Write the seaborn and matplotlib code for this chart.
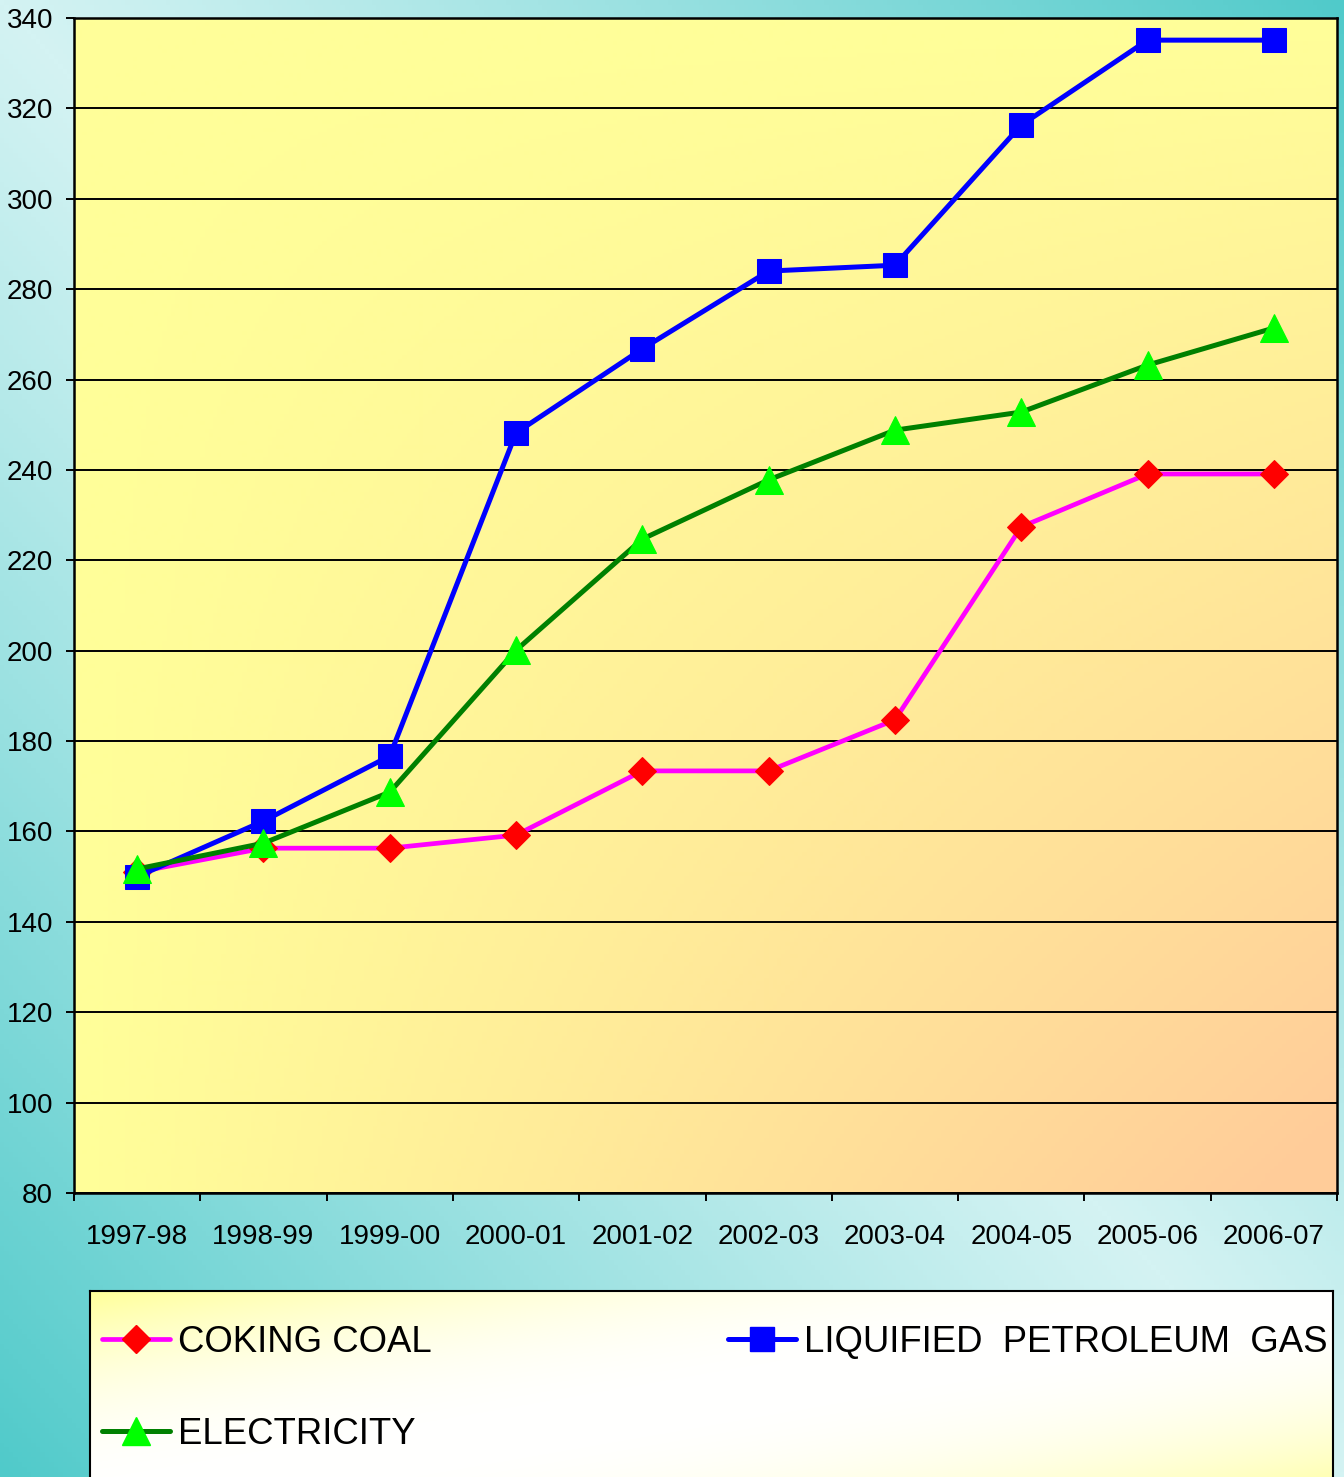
import numpy as np
import seaborn as sns
import matplotlib.pyplot as plt
from matplotlib.lines import Line2D

# data
years = ["1997-98", "1998-99", "1999-00", "2000-01", "2001-02",
         "2002-03", "2003-04", "2004-05", "2005-06", "2006-07"]
coking_coal = [151.0, 156.3, 156.3, 159.2, 173.4, 173.4, 184.7, 227.4, 239.1, 239.1]
lpg = [150.0, 162.3, 176.7, 248.2, 266.8, 284.0, 285.3, 316.3, 335.1, 335.1]
electricity = [151.7, 157.4, 168.7, 200.1, 224.7, 237.8, 248.8, 252.8, 263.2, 271.4]
y_ticks = list(range(80, 341, 20))

sns.set_style("white")
plt.rcParams['font.family'] = ['Liberation Sans', 'DejaVu Sans']
plt.rcParams['text.color'] = 'black'

W, H = 1344, 1477
fig = plt.figure(figsize=(W / 100, H / 100), dpi=100)


def gradient(c0, c1, t):
    c0 = np.array(c0) / 255.0
    c1 = np.array(c1) / 255.0
    return c0 * (1 - t[..., None]) + c1 * t[..., None]


# figure background: light cyan along the diagonal, teal in the other corners
xx, yy = np.meshgrid(np.linspace(0, 1, 300), np.linspace(0, 1, 300))
bg = fig.add_axes([0, 0, 1, 1], zorder=-10)
bg.imshow(gradient((212, 243, 243), (80, 202, 202), np.abs(xx - yy) ** 1.1),
          aspect='auto', extent=(0, 1, 0, 1))
bg.axis('off')

# main plot
ax = fig.add_axes([74 / W, 1 - 1193 / H, (1337 - 74) / W, (1193 - 18) / H])
ax.imshow(gradient((255, 255, 153), (255, 204, 153), np.clip(xx * yy * 1.05, 0, 1)),
          aspect='auto', extent=(0, 1, 0, 1), transform=ax.transAxes, zorder=0)

x = np.arange(len(years))
sns.lineplot(x=x, y=coking_coal, ax=ax, color="#ff00ff", lw=3.4, marker="D",
             markersize=14, markerfacecolor="#ff0000", markeredgecolor="#ff0000",
             legend=False, zorder=3)
sns.lineplot(x=x, y=lpg, ax=ax, color="#0000ff", lw=3.6, marker="s",
             markersize=17, markerfacecolor="#0000ff", markeredgecolor="#0000ff",
             legend=False, zorder=4)
sns.lineplot(x=x, y=electricity, ax=ax, color="#008000", lw=3.6, marker="^",
             markersize=20, markerfacecolor="#00ff00", markeredgecolor="#00ff00",
             legend=False, zorder=5)

ax.set_xlim(-0.5, len(years) - 0.5)
ax.set_ylim(80, 340)
ax.set_yticks(y_ticks)
ax.set_yticklabels([str(v) for v in y_ticks], fontsize=20)
ax.set_xticks(np.arange(-0.5, len(years), 1))
ax.set_xticklabels([])
ax.set_xticks(x, minor=True)
ax.set_xticklabels(years, minor=True, fontsize=20)
ax.tick_params(which='major', bottom=True, left=True, length=6, width=1.4,
               color='black', direction='out', labelcolor='black')
ax.tick_params(axis='y', pad=9)
ax.tick_params(axis='x', which='minor', bottom=True, length=0, pad=22,
               labelcolor='black')
ax.yaxis.grid(True, color='black', lw=1.4)
ax.xaxis.grid(False)
ax.set_axisbelow(True)
for s in ax.spines.values():
    s.set_visible(True)
    s.set_color('black')
    s.set_linewidth(1.8)
ax.set_xlabel("")
ax.set_ylabel("")

# legend box
lax = fig.add_axes([90 / W, -0.02, (1333 - 90) / W, (1477 - 1291) / H + 0.02], zorder=1)
lx, ly = np.meshgrid(np.linspace(0, 1, 300), np.linspace(0, 1, 300))
lax.imshow(gradient((255, 255, 255), (255, 255, 153), np.abs(lx + ly - 1) ** 2.2),
           aspect='auto', extent=(0, 1, 0, 1))
lax.set_xticks([])
lax.set_yticks([])
for s in lax.spines.values():
    s.set_color('black')
    s.set_linewidth(1.5)

handles = [
    Line2D([], [], color="#ff00ff", lw=3.4, marker="D", markersize=14,
           markerfacecolor="#ff0000", markeredgecolor="#ff0000"),
    Line2D([], [], color="#008000", lw=3.6, marker="^", markersize=20,
           markerfacecolor="#00ff00", markeredgecolor="#00ff00"),
    Line2D([], [], color="#0000ff", lw=3.6, marker="s", markersize=17,
           markerfacecolor="#0000ff", markeredgecolor="#0000ff"),
]
labels = ["COKING COAL", "ELECTRICITY", "LIQUIFIED  PETROLEUM  GAS"]
fig.legend(handles, labels, ncol=2, loc='upper left',
           bbox_to_anchor=(102 / W, 1 - 1325 / H), frameon=False, fontsize=26.3,
           handlelength=1.86, handletextpad=0.22, columnspacing=8.1,
           labelspacing=1.55, borderpad=0, borderaxespad=0, labelcolor='black')

fig.savefig("out.png", dpi=100)
